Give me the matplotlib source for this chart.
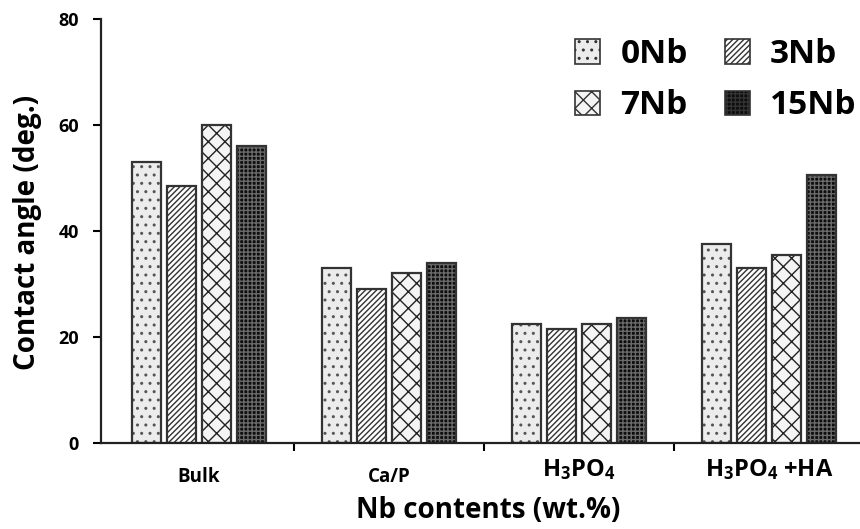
import matplotlib
matplotlib.use("Agg")
import matplotlib.pyplot as plt
from matplotlib.patches import Patch
import numpy as np

plt.rcParams['font.family'] = ['Open Sans', 'DejaVu Sans']
plt.rcParams['mathtext.fontset'] = 'custom'
plt.rcParams['mathtext.rm'] = 'Open Sans:bold'
plt.rcParams['mathtext.it'] = 'Open Sans:bold'
plt.rcParams['mathtext.bf'] = 'Open Sans:bold'
plt.rcParams['hatch.linewidth'] = 1.0

groups = ['Bulk', 'Ca/P', r'H$_3$PO$_4$', r'H$_3$PO$_4$ +HA']
series = ['0Nb', '3Nb', '7Nb', '15Nb']
v0 = [53.0, 33.0, 22.5, 37.5]
v3 = [48.5, 29.0, 21.5, 33.0]
v7 = [60.0, 32.0, 22.5, 35.5]
v15 = [56.0, 34.0, 23.5, 50.5]
values = [v0, v3, v7, v15]

faces = ['#ececec', '#ffffff', '#f4f4f4', '#0d0d0d']
hatchcols = ['#555555', '#333333', '#222222', '#6a6a6a']
hatches = ['..', '//////', 'xx', '++++']

fig = plt.figure(figsize=(8.6, 5.29), dpi=100)
ax = fig.add_axes([0.1174, 0.1626, 0.8826, 0.8014])

x = np.arange(len(groups))
step = 0.184
width = 0.155
handles = {}
for i, (vals, fc, hc, h, name) in enumerate(zip(values, faces, hatchcols, hatches, series)):
    pos = x + (i - 1.5) * step
    ax.bar(pos, vals, width, color=fc, edgecolor=hc, hatch=h, linewidth=0)
    ax.bar(pos, vals, width, fill=False, edgecolor='#333333', linewidth=1.6)
    handles[name] = Patch(facecolor=fc, edgecolor='#333333', hatch=h, linewidth=1.2, label=name)

ax.set_xlim(-0.515, 3.48)
ax.set_ylim(0, 80)
ax.set_yticks([0, 20, 40, 60, 80])
ax.set_yticklabels(['0', '20', '40', '60', '80'], fontsize=13, fontweight='bold')
ax.set_xticks([0.5, 1.5, 2.5])
ax.set_xticklabels([])
ax.tick_params(axis='x', direction='out', length=6, width=1.5)
ax.tick_params(axis='y', direction='out', length=6, width=1.5, pad=10)
for s in ['top', 'right']:
    ax.spines[s].set_visible(False)
for s in ['left', 'bottom']:
    ax.spines[s].set_linewidth(1.6)
    ax.spines[s].set_color('#222222')

sizes = [13.5, 13.5, 17, 17]
ys = [477, 477, 470, 470]
for xi, g, fs, yp in zip(x, groups, sizes, ys):
    ax.annotate(g, xy=(xi, 0), xycoords=('data', 'figure pixels'),
                xytext=(0, 529 - yp), textcoords='offset pixels',
                ha='center', va='center', fontsize=fs, fontweight='bold')

fig.text(0.5 * (352 + 625) / 860, 1 - 510 / 529, 'Nb contents (wt.%)',
         ha='center', va='center', fontsize=20, fontweight='bold')
fig.text(28 / 860, 1 - 232 / 529, 'Contact angle (deg.)', rotation=90,
         ha='center', va='center', fontsize=20, fontweight='bold')

order = ['0Nb', '7Nb', '3Nb', '15Nb']
leg = fig.legend(handles=[handles[k] for k in order], ncol=2, loc='upper right',
                 bbox_to_anchor=(856 / 860, 1 - 38 / 529),
                 frameon=False, prop={'size': 24, 'weight': 'bold'},
                 handlelength=0.75, handleheight=0.75, handletextpad=0.6,
                 columnspacing=1.1, labelspacing=0.55, borderpad=0, borderaxespad=0)

fig.savefig('out.png', dpi=100)
